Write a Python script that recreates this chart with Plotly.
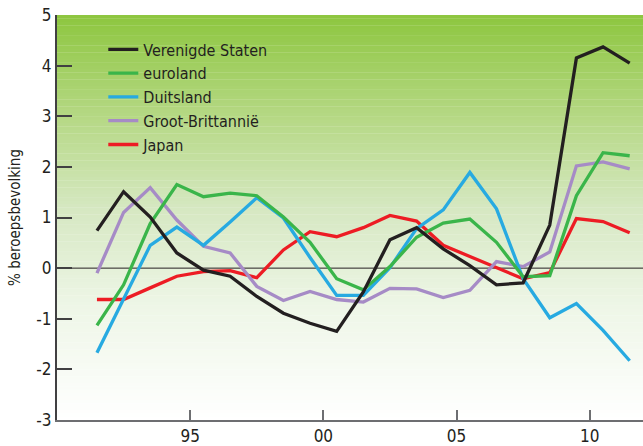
import plotly.graph_objects as go

# ---- data ----
jaren = [1991.5, 1992.5, 1993.5, 1994.5, 1995.5, 1996.5, 1997.5, 1998.5, 1999.5, 2000.5,
         2001.5, 2002.5, 2003.5, 2004.5, 2005.5, 2006.5, 2007.5, 2008.5, 2009.5, 2010.5, 2011.5]

verenigde_staten = [0.74, 1.51, 1.01, 0.30, -0.04, -0.16, -0.56, -0.89, -1.09, -1.25,
                    -0.47, 0.56, 0.80, 0.38, 0.05, -0.33, -0.29, 0.85, 4.15, 4.37, 4.05]
euroland = [-1.13, -0.33, 0.88, 1.65, 1.41, 1.48, 1.43, 1.01, 0.51, -0.21,
            -0.43, 0.03, 0.61, 0.89, 0.97, 0.51, -0.17, -0.15, 1.43, 2.28, 2.22]
duitsland = [-1.67, -0.60, 0.45, 0.81, 0.45, 0.91, 1.39, 0.99, 0.21, -0.54,
             -0.54, 0.01, 0.78, 1.15, 1.89, 1.17, -0.21, -0.98, -0.70, -1.23, -1.83]
groot_brittannie = [-0.10, 1.10, 1.59, 0.95, 0.43, 0.30, -0.36, -0.64, -0.46, -0.62,
                    -0.67, -0.40, -0.41, -0.58, -0.44, 0.13, 0.03, 0.32, 2.02, 2.10, 1.96]
japan = [-0.62, -0.62, -0.39, -0.16, -0.07, -0.05, -0.19, 0.36, 0.72, 0.62,
         0.80, 1.04, 0.93, 0.45, 0.23, 0.01, -0.21, -0.09, 0.98, 0.92, 0.70]

x_tick_vals = [1995, 2000, 2005, 2010]
x_tick_text = ["95", "00", "05", "10"]
y_tick_vals = [-3, -2, -1, 0, 1, 2, 3, 4, 5]
y_tick_text = ["-3", "-2", "-1", "0", "1", "2", "3", "4", "5"]

FONT = "Liberation Sans Narrow, DejaVu Sans Condensed, Roboto, sans-serif"
TXT = "#231F20"

series = [
    ("Japan", japan, "#ED1C24"),
    ("Groot-Brittannië", groot_brittannie, "#A68BC6"),
    ("Duitsland", duitsland, "#27AAE1"),
    ("euroland", euroland, "#3AB54A"),
    ("Verenigde Staten", verenigde_staten, "#231F20"),
]

fig = go.Figure()
for name, vals, col in series:
    fig.add_trace(go.Scatter(x=jaren, y=vals, name=name, mode="lines",
                             line=dict(color=col, width=3.3)))

# gradient background (green top -> white bottom)
stops = [(0.0, (141, 198, 63)), (0.25, (181, 216, 132)), (0.48, (214, 232, 194)),
         (0.72, (238, 246, 231)), (1.0, (255, 255, 255))]

def col_at(t):
    for (t0, c0), (t1, c1) in zip(stops[:-1], stops[1:]):
        if t0 <= t <= t1:
            f = (t - t0) / (t1 - t0)
            return "rgb(%d,%d,%d)" % tuple(round(a + (b - a) * f) for a, b in zip(c0, c1))
    return "rgb(255,255,255)"

shapes = []
N = 120
for i in range(N):
    t = (i + 0.5) / N
    shapes.append(dict(type="rect", xref="paper", yref="paper", layer="below",
                       x0=0, x1=1, y0=1 - (i + 1) / N - 0.001, y1=1 - i / N,
                       fillcolor=col_at(t), line=dict(width=0)))
# zero line
shapes.append(dict(type="line", xref="paper", yref="y", x0=0, x1=1, y0=0, y1=0,
                   line=dict(color="#231F20", width=1), layer="below"))

fig.update_layout(
    width=643, height=446,
    margin=dict(l=57, r=0, t=15, b=26),
    paper_bgcolor="white", plot_bgcolor="white",
    shapes=shapes,
    showlegend=True,
    legend=dict(x=0.079, y=0.957, xanchor="left", yanchor="top",
                traceorder="reversed", bgcolor="rgba(0,0,0,0)",
                font=dict(family=FONT, size=16, color=TXT),
                tracegroupgap=0, itemwidth=30),
    font=dict(family=FONT, color=TXT),
    xaxis=dict(range=[1990, 2012], tickvals=x_tick_vals, ticktext=x_tick_text,
               ticks="inside", ticklen=10, tickwidth=1.5, tickcolor="#6D6E71",
               showline=True, linecolor="#6D6E71", linewidth=2,
               showgrid=False, zeroline=False, tickfont=dict(size=17, color=TXT)),
    yaxis=dict(range=[-3, 5], tickvals=y_tick_vals, ticktext=y_tick_text,
               ticks="inside", ticklen=15, tickwidth=1.5, tickcolor="#414042",
               showline=True, linecolor="#414042", linewidth=2,
               showgrid=False, zeroline=False, tickfont=dict(size=17, color=TXT),
               title=dict(text="% beroepsbevolking", font=dict(size=15, color=TXT), standoff=12)),
)

fig.write_html("out.html")
